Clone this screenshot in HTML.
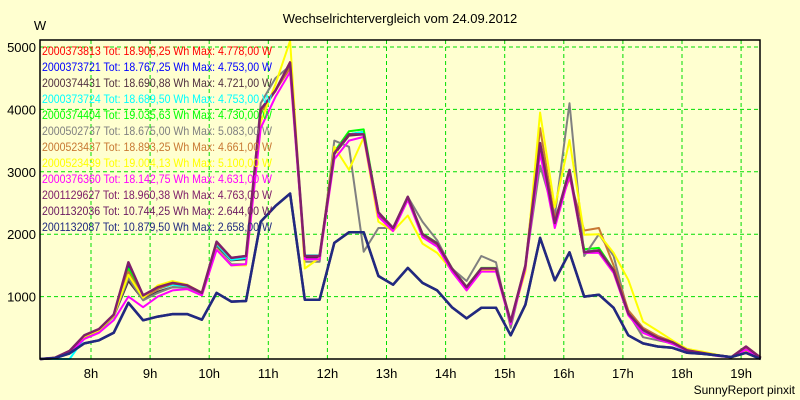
<!DOCTYPE html>
<html><head><meta charset="utf-8"><style>
body{margin:0;background:#ffffd0;}
svg{display:block;font-family:"Liberation Sans",sans-serif;}
</style></head><body>
<svg id="chart" width="800" height="400" viewBox="0 0 800 400">
<rect x="0" y="0" width="800" height="400" fill="#ffffd0"/>
<text x="400" y="23" text-anchor="middle" font-size="13" fill="#000">Wechselrichtervergleich vom 24.09.2012</text>
<text x="40" y="30" text-anchor="middle" font-size="13" fill="#000">W</text>
<text x="795" y="394" text-anchor="end" font-size="12" fill="#000">SunnyReport pinxit</text>
<g id="grid"></g>
<g id="series"></g>
<g id="legend"></g>
<rect x="40" y="40" width="720" height="319" fill="none" stroke="#000" stroke-width="1.5"/>
<g id="axes"></g>
</svg>
<script>
const yTicks = [1000, 2000, 3000, 4000, 5000];
const xTicks = [8, 9, 10, 11, 12, 13, 14, 15, 16, 17, 18, 19];
const xTickLabels = ["8h","9h","10h","11h","12h","13h","14h","15h","16h","17h","18h","19h"];
const tStart = 7.14;
const tStep = 0.2488;
const names = ["2000373813","2000373721","2000374431","2000373724","2000374404","2000502737","2000523437","2000523439","2000376360","2001129627","2001132036","2001132087"];
const totals = ["18.906,25","18.767,25","18.690,88","18.689,50","19.035,63","18.675,00","18.893,25","19.004,13","18.142,75","18.960,38","10.744,25","10.879,50"];
const maxima = ["4.778,00","4.753,00","4.721,00","4.753,00","4.730,00","5.083,00","4.661,00","5.100,00","4.631,00","4.763,00","2.644,00","2.658,00"];
const colors = ["#ff0000","#0000ff","#503040","#00ffff","#00ff00","#808080","#c87832","#ffff00","#ff00ff","#80206a","#6a1a60","#202a80"];
const s0 = [0,20,120,360,460,690,1500,1000,1130,1200,1170,1050,1860,1600,1630,3950,4300,4760,1640,1640,3300,3600,3620,2340,2090,2590,1990,1840,1440,1140,1430,1430,590,1490,3420,2180,3020,1720,1740,1420,730,460,340,260,140,100,60,30,180,20];
const s1 = [0,20,120,360,460,690,1480,1000,1130,1200,1170,1050,1850,1600,1630,3950,4300,4740,1640,1640,3300,3600,3640,2340,2090,2590,1990,1840,1440,1140,1430,1430,590,1490,3400,2180,3000,1720,1740,1420,730,460,340,260,140,100,60,30,180,20];
const s2 = [0,20,110,350,450,680,1250,950,1080,1150,1150,1050,1820,1580,1600,3950,4300,4720,1620,1620,3280,3580,3600,2320,2080,2580,1980,1830,1430,1130,1420,1420,580,1480,3380,2160,3000,1700,1720,1410,720,450,330,250,140,100,60,30,170,20];
const s3 = [0,0,0,330,450,680,1350,980,1120,1190,1160,1050,1840,1590,1620,3950,4300,4740,1660,1660,3300,3600,3640,2340,2090,2590,1990,1840,1440,1140,1430,1430,590,1490,3400,2180,3000,1720,1740,1420,730,440,320,240,120,90,50,30,170,20];
const s4 = [0,20,130,380,480,700,1450,1010,1140,1210,1180,1060,1870,1620,1650,3950,4300,4730,1650,1650,3320,3650,3680,2350,2100,2600,2010,1860,1460,1160,1460,1460,600,1500,3400,2180,3000,1760,1780,1430,740,460,340,260,140,100,60,30,180,20];
const s5 = [0,20,110,350,450,680,1300,940,1060,1150,1140,1040,1780,1520,1520,4100,4500,4700,1560,1560,3500,3400,1720,2100,2100,2600,2200,1900,1450,1250,1650,1550,500,1500,3100,2300,4100,1650,2000,1650,730,350,300,250,140,100,60,30,150,20];
const s6 = [0,20,120,360,460,690,1400,980,1120,1210,1190,1060,1860,1620,1650,3950,4300,4660,1650,1650,3300,3600,3600,2340,2090,2590,1990,1840,1440,1140,1430,1430,590,1500,3700,2250,2900,2060,2100,1500,780,500,370,280,160,110,60,30,170,20];
const s7 = [0,20,120,360,460,690,1350,980,1180,1250,1190,1060,1760,1500,1500,3800,4400,5100,1450,1620,3400,3030,3550,2200,2050,2300,1850,1700,1420,1100,1420,1420,600,1400,3950,2430,3510,1990,2000,1700,1270,600,450,300,160,120,70,20,120,20];
const s8 = [0,10,100,320,420,620,1000,830,1000,1100,1120,1020,1750,1500,1520,3700,4200,4600,1600,1600,3200,3500,3560,2280,2050,2550,1950,1800,1400,1100,1400,1400,560,1450,3300,2100,2950,1700,1700,1380,700,420,320,240,130,90,50,25,150,20];
const s9 = [0,20,130,380,480,710,1550,1020,1150,1220,1180,1060,1880,1620,1650,4000,4300,4750,1650,1650,3300,3600,3600,2350,2100,2600,2000,1850,1450,1150,1450,1450,600,1500,3460,2180,3030,1710,1740,1420,730,470,340,270,140,100,60,30,200,20];
const s10 = [0,15,90,250,300,420,900,620,680,720,720,630,1060,920,930,2200,2450,2650,950,950,1860,2030,2030,1330,1190,1460,1220,1100,830,650,820,820,380,870,1940,1260,1710,1000,1030,820,380,250,200,180,100,85,60,30,100,0];
const s11 = [0,15,90,250,300,420,900,620,680,720,720,630,1060,920,930,2200,2450,2650,950,950,1860,2030,2030,1330,1190,1460,1220,1100,830,650,820,820,380,870,1940,1260,1710,1000,1030,820,380,250,200,180,100,85,60,30,100,0];
const seriesList = [s0,s1,s2,s3,s4,s5,s6,s7,s8,s9,s10,s11];

const X0 = 40, X1 = 760, Y0 = 359;
function xScale(t){ return 91 + (t - 8) * 59.1; }
function yScale(v){ return Y0 - v * 0.0624; }
const NS = "http://www.w3.org/2000/svg";
const grid = document.getElementById('grid');
const axes = document.getElementById('axes');
const sg = document.getElementById('series');
const lg = document.getElementById('legend');

yTicks.forEach(v => {
  const y = yScale(v);
  const l = document.createElementNS(NS,'line');
  l.setAttribute('x1',X0); l.setAttribute('x2',X1); l.setAttribute('y1',y); l.setAttribute('y2',y);
  l.setAttribute('stroke','#00dd00'); l.setAttribute('stroke-dasharray','4,3');
  
  
  grid.appendChild(l);
  const t = document.createElementNS(NS,'text');
  t.setAttribute('x',36); t.setAttribute('y',y+5); t.setAttribute('text-anchor','end'); t.setAttribute('font-size','13');
  t.textContent = v;
  
  
  axes.appendChild(t);
});
xTicks.forEach((h,i) => {
  const x = xScale(h);
  const l = document.createElementNS(NS,'line');
  l.setAttribute('x1',x); l.setAttribute('x2',x); l.setAttribute('y1',40); l.setAttribute('y2',Y0);
  l.setAttribute('stroke','#00dd00'); l.setAttribute('stroke-dasharray','4,3');
  
  
  grid.appendChild(l);
  const t = document.createElementNS(NS,'text');
  t.setAttribute('x',x); t.setAttribute('y',378); t.setAttribute('text-anchor','middle'); t.setAttribute('font-size','13');
  t.textContent = xTickLabels[i];
  
  
  axes.appendChild(t);
});

seriesList.forEach((arr,si) => {
  const pts = arr.map((v,i) => xScale(tStart + i*tStep).toFixed(1) + ',' + yScale(v).toFixed(1)).join(' ');
  const p = document.createElementNS(NS,'polyline');
  p.setAttribute('points',pts); p.setAttribute('fill','none');
  p.setAttribute('stroke',colors[si]); p.setAttribute('stroke-width', si>=9 ? 2.5 : 2);
  p.setAttribute('stroke-linejoin','round');
  
  
  sg.appendChild(p);
});

names.forEach((n,i) => {
  const t = document.createElementNS(NS,'text');
  t.setAttribute('x',42); t.setAttribute('y',55 + i*16); t.setAttribute('font-size','12');
  t.setAttribute('fill',colors[i]);
  t.setAttribute('textLength','230'); t.setAttribute('lengthAdjust','spacingAndGlyphs');
  t.textContent = n + ' Tot: ' + totals[i] + ' Wh Max: ' + maxima[i] + ' W';
  
  
  lg.appendChild(t);
});
</script>
</body></html>
